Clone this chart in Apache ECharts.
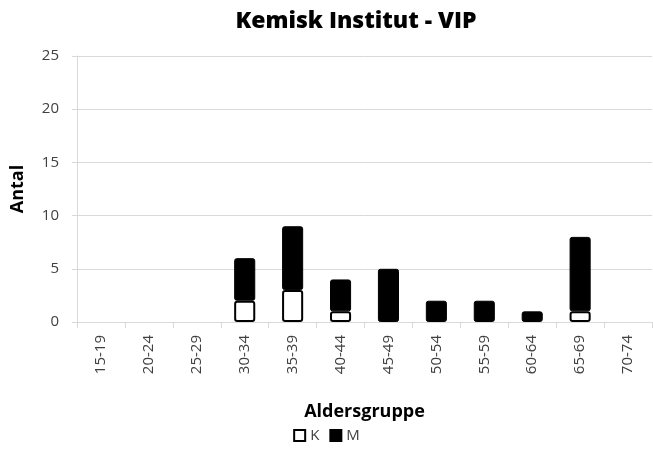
<!DOCTYPE html>
<html>
<head>
<meta charset="utf-8">
<script src="https://cdn.jsdelivr.net/npm/echarts@6/dist/echarts.min.js"></script>
<style>
  html, body { margin: 0; padding: 0; background: #fff; }
  #chart { width: 653px; height: 455px; }
</style>
</head>
<body>
<div id="chart"></div>
<script>
const categories = ["15-19", "20-24", "25-29", "30-34", "35-39", "40-44", "45-49", "50-54", "55-59", "60-64", "65-69", "70-74"];
const kValues = [0, 0, 0, 2, 3, 1, 0, 0, 0, 0, 1, 0];
const mValues = [0, 0, 0, 4, 6, 3, 5, 2, 2, 1, 7, 0];
const yTicks = [0, 5, 10, 15, 20, 25];

const font = "'Open Sans', 'Noto Sans', sans-serif";
// empty groups draw no mark
const hideZero = (arr) => arr.map((v) => (v === 0 ? null : v));

const chart = echarts.init(document.getElementById("chart"));

chart.setOption({
  animation: false,
  title: {
    text: "Kemisk Institut - VIP",
    left: 351,
    top: 5,
    textAlign: "center",
    textStyle: { fontFamily: font, fontSize: 23, fontWeight: 800, color: "#000" },
  },
  grid: { left: 77, right: 1, top: 56, bottom: 133, outerBoundsMode: "none" },
  legend: {
    bottom: 7,
    left: "center",
    itemWidth: 11,
    itemHeight: 11,
    itemGap: 10,
    textStyle: { fontFamily: font, fontSize: 15, color: "#404040" },
    data: [
      { name: "K", icon: "rect", itemStyle: { color: "#fff", borderColor: "#000", borderWidth: 2 } },
      { name: "M", icon: "rect" },
    ],
  },
  xAxis: {
    type: "category",
    data: categories,
    name: "Aldersgruppe",
    nameLocation: "middle",
    nameGap: 81,
    nameTextStyle: { fontFamily: font, fontSize: 18, fontWeight: "bold", color: "#000" },
    axisLine: { lineStyle: { color: "#d9d9d9", width: 1 } },
    axisTick: { show: true, length: 6, lineStyle: { color: "#d9d9d9" } },
    axisLabel: { rotate: 90, fontFamily: font, fontSize: 15, color: "#404040", margin: 13 },
  },
  yAxis: {
    type: "value",
    min: yTicks[0],
    max: yTicks[yTicks.length - 1],
    interval: 5,
    name: "Antal",
    nameLocation: "middle",
    nameGap: 50,
    nameTextStyle: { fontFamily: font, fontSize: 18, fontWeight: "bold", color: "#000" },
    axisLine: { show: true, lineStyle: { color: "#d9d9d9" } },
    axisTick: { show: true, length: 5, lineStyle: { color: "#d9d9d9" } },
    axisLabel: { fontFamily: font, fontSize: 15, color: "#404040", margin: 18 },
    splitLine: { lineStyle: { color: "#d9d9d9" } },
  },
  series: [
    {
      name: "K",
      type: "bar",
      stack: "total",
      barWidth: "44%",
      data: hideZero(kValues),
      itemStyle: { color: "#fff", borderColor: "#000", borderWidth: 2, borderRadius: 2 },
    },
    {
      name: "M",
      type: "bar",
      stack: "total",
      barWidth: "44%",
      data: hideZero(mValues),
      itemStyle: { color: "#000", borderColor: "#000", borderWidth: 1, borderRadius: 2 },
    },
  ],
});
</script>
</body>
</html>
